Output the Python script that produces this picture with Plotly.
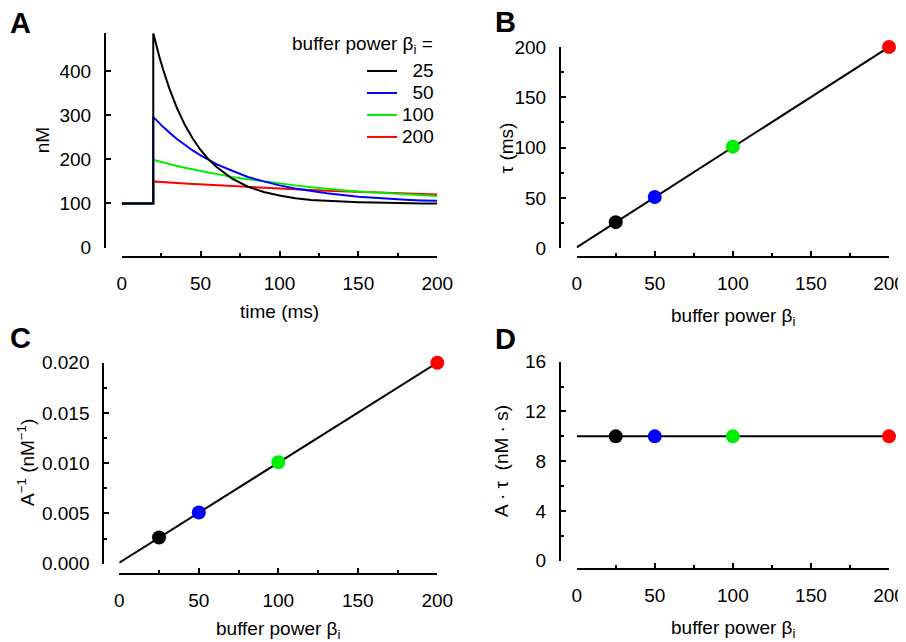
import plotly.graph_objects as go

# ---------------- data ----------------
buffer_power = [25, 50, 100, 200]
legend_labels = ["\u00a0\u00a025", "\u00a0\u00a050", "100", "200"]
colors = ["#000000", "#0000ff", "#00ee00", "#ff0000"]

# Panel A: [Ca] transients (nM) vs time (ms)
t_base = [0, 20]
c_base = [100, 100]
t_decay = [20, 22, 24, 26, 28, 30, 35, 40, 45, 50, 55, 60, 70, 80, 90, 100,
           110, 120, 130, 140, 150, 160, 170, 180, 190, 200]
c_25 = [485, 456, 430, 406, 383, 362, 316, 278, 247, 221, 200, 183, 156, 138,
        126, 118, 112, 108, 106, 104, 103, 102, 101, 101, 100, 100]
c_50 = [296, 288, 281, 274, 268, 261, 246, 232, 220, 209, 199, 189, 174, 160,
        150, 141, 134, 128, 123, 119, 115, 113, 110, 108.5, 107, 106]
c_100 = [199, 197, 195, 193, 191.5, 190, 185, 181, 177, 174, 170, 167, 160, 155,
         150, 145, 141, 137, 133, 130, 127, 125, 122, 120, 118, 117]
c_200 = [150, 149.3, 148.8, 148.3, 147.8, 147.3, 146.2, 145, 144, 142.9, 141.8,
         140.8, 138.8, 136.9, 135.1, 133.4, 131.8, 130.3, 128.8, 127.4, 126.1,
         124.8, 123.6, 122.4, 121.3, 120.3]
curves = [c_25, c_50, c_100, c_200]

# Panel B: tau (ms)
tau_ms = [26, 51, 101, 200]
tau_fit_x = [0, 200]
tau_fit_y = [1, 200]

# Panel C: A^-1 (nM^-1)
inv_amp = [0.0026, 0.0051, 0.0101, 0.0200]
inv_fit_x = [0, 200]
inv_fit_y = [0.0001, 0.0200]

# Panel D: A*tau (nM s)
amp_tau = [10, 10, 10, 10]
at_fit_x = [0, 200]
at_fit_y = [10, 10]

# ---------------- figure ----------------
PAGE_MARGIN = 8          # default body margin of the html page
W, H = 906 - PAGE_MARGIN, 642 - PAGE_MARGIN
FONT = "Arial, Liberation Sans, sans-serif"


def px(x):
    return (x - PAGE_MARGIN) / W


def py(y):
    return 1 - (y - PAGE_MARGIN) / H


fig = go.Figure()

# Panel A curves (drawn red first, black last)
for i in [3, 2, 1, 0]:
    fig.add_trace(go.Scatter(
        x=t_base + t_decay, y=c_base + curves[i], mode="lines",
        line=dict(color=colors[i], width=2),
        name="<span style='font-size:19px'>%s</span>" % legend_labels[i],
        legendrank=i + 1, showlegend=True, hoverinfo="skip",
        xaxis="x", yaxis="y"))

# Panels B, C, D
panels = [
    ("x2", "y2", tau_fit_x, tau_fit_y, tau_ms),
    ("x3", "y3", inv_fit_x, inv_fit_y, inv_amp),
    ("x4", "y4", at_fit_x, at_fit_y, amp_tau),
]
for xa, ya, fx, fy, vals in panels:
    fig.add_trace(go.Scatter(x=fx, y=fy, mode="lines",
                             line=dict(color="black", width=2),
                             showlegend=False, hoverinfo="skip",
                             xaxis=xa, yaxis=ya))
    fig.add_trace(go.Scatter(x=buffer_power, y=vals, mode="markers",
                             marker=dict(color=colors, size=14, line=dict(width=0)),
                             cliponaxis=False, showlegend=False, hoverinfo="skip",
                             xaxis=xa, yaxis=ya))

common = dict(showline=True, linewidth=2, linecolor="black",
              ticks="inside", ticklen=5, tickwidth=2, tickcolor="black",
              showgrid=False, zeroline=False, anchor="free", automargin=False,
              tickfont=dict(family=FONT, size=19, color="black"),
              fixedrange=True)


def xaxis(x0, x1, ypos):
    return dict(common, domain=[px(x0), px(x1)], range=[0, 200], position=py(ypos),
                tickmode="linear", tick0=0, dtick=50, ticklabelstandoff=9,
                minor=dict(ticks="inside", ticklen=3, tickwidth=1.5,
                           tickcolor="black", dtick=25, tick0=0, showgrid=False))


def yaxis(y0, y1, xpos, rng, dtick, minor=None, fmt=None):
    d = dict(common, domain=[py(y0), py(y1)], range=rng, position=px(xpos),
             tickmode="linear", tick0=0, dtick=dtick, ticklabelstandoff=9)
    if minor is not None:
        d["minor"] = dict(ticks="inside", ticklen=3, tickwidth=1.5,
                          tickcolor="black", dtick=minor, tick0=0, showgrid=False)
    if fmt:
        d["tickformat"] = fmt
    return d


ann = []


def text(x, y, s, size=19, angle=0, xanchor="center"):
    ann.append(dict(x=px(x), y=py(y), xref="paper", yref="paper", text=s,
                    showarrow=False, textangle=angle, xanchor=xanchor,
                    yanchor="middle",
                    font=dict(family=FONT, size=size, color="black")))


# panel letters
text(20, 23.5, "<b>A</b>", size=29)
text(505, 22.5, "<b>B</b>", size=29)
text(20, 337.5, "<b>C</b>", size=29)
text(505, 339, "<b>D</b>", size=29)

# axis titles
text(279.5, 311.7, "time (ms)")
text(733, 317, "buffer power β<sub>i</sub>")
text(278.3, 630, "buffer power β<sub>i</sub>")
text(733, 629, "buffer power β<sub>i</sub>")
text(42.7, 140.5, "nM", angle=-90)
text(506.7, 147.7, "τ (ms)", angle=-90)
text(26, 463, "A<sup>−1</sup> (nM<sup>−1</sup>)", angle=-90)
text(501, 461, "A · τ \u00a0(nM · s)", angle=-90)

# legend title
text(435, 45, "buffer power β<sub>i</sub> =", xanchor="right")

fig.update_layout(
    width=W, height=H,
    margin=dict(l=0, r=0, t=0, b=0),
    paper_bgcolor="white", plot_bgcolor="white",
    font=dict(family=FONT, size=19, color="black"),
    xaxis=xaxis(121.7, 437.3, 257.3),
    yaxis=yaxis(247.7, 33.3, 105, [0, 485], 100),
    xaxis2=xaxis(576.7, 889, 256.7),
    yaxis2=yaxis(248.3, 47, 560, [0, 200], 50, minor=25),
    xaxis3=xaxis(119.3, 437.3, 574),
    yaxis3=yaxis(563.7, 362.7, 103.3, [0, 0.02], 0.005, minor=0.0025, fmt=".3f"),
    xaxis4=xaxis(576.7, 889, 569.3),
    yaxis4=yaxis(560.7, 361.7, 560, [0, 16], 4, minor=2),
    showlegend=True,
    legend=dict(x=px(362), y=py(55), xanchor="left", yanchor="top",
                bgcolor="rgba(0,0,0,0)", borderwidth=0,
                font=dict(family=FONT, size=14.6, color="black"),
                itemclick=False, itemdoubleclick=False),
    annotations=ann,
)

fig.write_html("out.html")
